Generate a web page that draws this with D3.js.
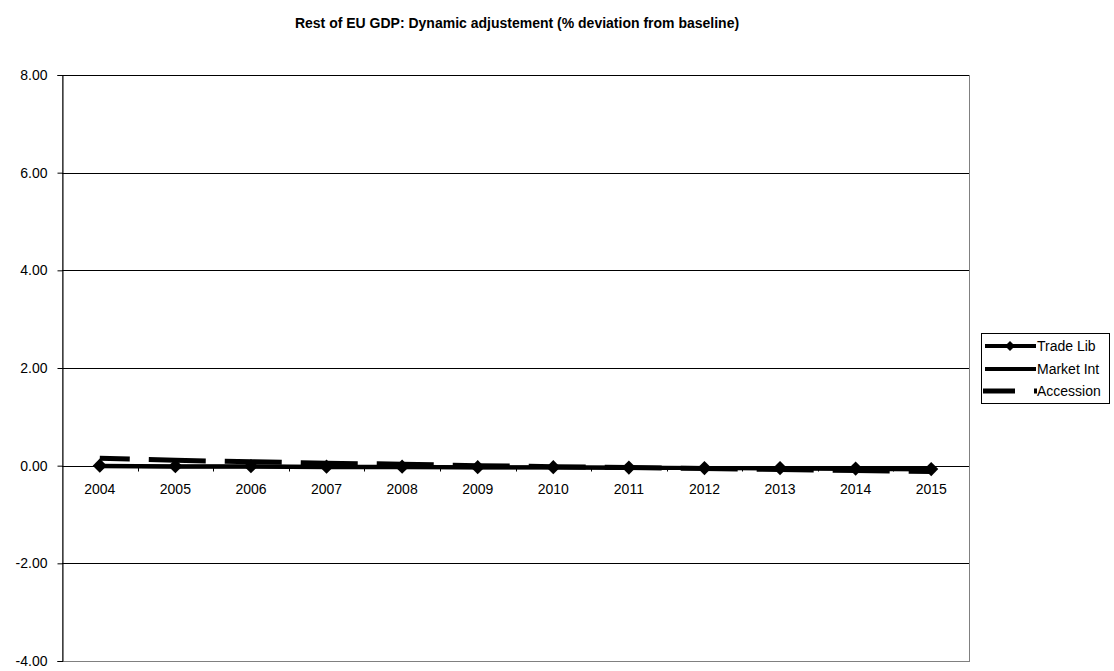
<!DOCTYPE html>
<html>
<head>
<meta charset="utf-8">
<script src="https://cdn.jsdelivr.net/npm/d3@7"></script>
<style>
  body { margin: 0; background: #fff; }
  svg { display: block; font-family: Arial, "Liberation Sans", sans-serif; }
</style>
</head>
<body>
<svg id="chart" width="1114" height="671"></svg>
<script>
// Years on the category axis
const years = ["2004","2005","2006","2007","2008","2009","2010","2011","2012","2013","2014","2015"];
// GDP deviation from baseline (%) for each scenario
const tradeLib  = [0.00, -0.01, -0.01, -0.02, -0.02, -0.03, -0.03, -0.04, -0.05, -0.05, -0.06, -0.07];
const marketInt = [-0.01, -0.02, -0.02, -0.03, -0.03, -0.04, -0.04, -0.05, -0.05, -0.06, -0.07, -0.08];
const accession = [0.15, 0.11, 0.08, 0.05, 0.03, 0.00, -0.02, -0.04, -0.06, -0.08, -0.10, -0.12];
const yTicks = [-4, -2, 0, 2, 4, 6, 8];
const seriesNames = ["Trade Lib", "Market Int", "Accession"];

const FONT = 14;
const svg = d3.select("#chart");
const plot = { left: 62, right: 969, top: 75, bottom: 661 };

const x = d3.scaleBand().domain(years).range([plot.left, plot.right]);
const y = d3.scaleLinear().domain([-4, 8]).range([plot.bottom, plot.top]);

// Title
svg.append("text")
  .attr("x", 517).attr("y", 28)
  .attr("text-anchor", "middle")
  .attr("font-size", FONT).attr("font-weight", "bold")
  .text("Rest of EU GDP: Dynamic adjustement (% deviation from baseline)");

// Plot area frame
svg.append("rect")
  .attr("x", plot.left + 0.5).attr("y", plot.top + 0.5)
  .attr("width", plot.right - plot.left).attr("height", plot.bottom - plot.top)
  .attr("fill", "none").attr("stroke", "#808080").attr("stroke-width", 1);

// Horizontal gridlines
svg.append("g").selectAll("line")
  .data(yTicks.filter(d => d !== -4))
  .join("line")
  .attr("x1", plot.left).attr("x2", plot.right)
  .attr("y1", d => Math.round(y(d)) + 0.5).attr("y2", d => Math.round(y(d)) + 0.5)
  .attr("stroke", "#000").attr("stroke-width", 1);

// Value axis (hyphen minus, two decimals)
const fmt = d => d3.format(".2f")(d).replace("\u2212", "-");
const yAxis = svg.append("g")
  .attr("transform", `translate(${plot.left + 0.5},0)`)
  .call(d3.axisLeft(y).tickValues(yTicks).tickSize(5).tickPadding(10).tickFormat(fmt));
yAxis.select(".domain").attr("stroke", "#000");
yAxis.selectAll(".tick line").attr("stroke", "#000");
yAxis.selectAll("text").attr("font-size", FONT).attr("font-family", "Arial, 'Liberation Sans', sans-serif").attr("fill", "#000");

// Category axis through zero, ticks between categories
const y0 = Math.round(y(0)) + 0.5;
svg.append("g").selectAll("line")
  .data(years.slice(1))
  .join("line")
  .attr("x1", d => Math.round(x(d)) + 0.5).attr("x2", d => Math.round(x(d)) + 0.5)
  .attr("y1", y0).attr("y2", y0 + 5)
  .attr("stroke", "#000");
svg.append("g").selectAll("text")
  .data(years)
  .join("text")
  .attr("x", d => x(d) + x.bandwidth() / 2)
  .attr("y", y0 + 27)
  .attr("text-anchor", "middle")
  .attr("font-size", FONT)
  .text(d => d);

const cx = d => x(d) + x.bandwidth() / 2;
const lineFor = vals => d3.line().x((d, i) => cx(years[i])).y(d => y(d))(vals);

// Accession (long dashes)
svg.append("path")
  .attr("d", lineFor(accession))
  .attr("fill", "none").attr("stroke", "#000")
  .attr("stroke-width", 5).attr("stroke-dasharray", "57,19").attr("stroke-dashoffset", 27);

// Market Int
svg.append("path")
  .attr("d", lineFor(marketInt))
  .attr("fill", "none").attr("stroke", "#000").attr("stroke-width", 4);

// Trade Lib with diamond markers
svg.append("path")
  .attr("d", lineFor(tradeLib))
  .attr("fill", "none").attr("stroke", "#000").attr("stroke-width", 4);
const diamond = d3.symbol().type(d3.symbolSquare).size(100);
svg.append("g").selectAll("path")
  .data(tradeLib)
  .join("path")
  .attr("transform", (d, i) => `translate(${cx(years[i])},${y(d)}) rotate(45)`)
  .attr("d", diamond)
  .attr("fill", "#000");

// Legend
const lg = svg.append("g");
lg.append("rect")
  .attr("x", 981.5).attr("y", 333.5).attr("width", 128).attr("height", 70)
  .attr("fill", "#fff").attr("stroke", "#000");
const rowsY = [346, 369, 391];
seriesNames.forEach((name, i) => {
  const ry = rowsY[i];
  if (i === 2) {
    lg.append("line").attr("x1", 983).attr("x2", 1015).attr("y1", ry).attr("y2", ry)
      .attr("stroke", "#000").attr("stroke-width", 5);
    lg.append("rect").attr("x", 1034).attr("y", ry - 2.5).attr("width", 3).attr("height", 5).attr("fill", "#000");
  } else {
    lg.append("line").attr("x1", 985).attr("x2", 1036).attr("y1", ry).attr("y2", ry)
      .attr("stroke", "#000").attr("stroke-width", 4);
  }
  if (i === 0) {
    lg.append("path").attr("transform", `translate(1010,${ry}) rotate(45)`)
      .attr("d", d3.symbol().type(d3.symbolSquare).size(50)).attr("fill", "#000");
  }
  lg.append("text").attr("x", 1037).attr("y", ry + 5).attr("font-size", FONT).text(name);
});
</script>
</body>
</html>
